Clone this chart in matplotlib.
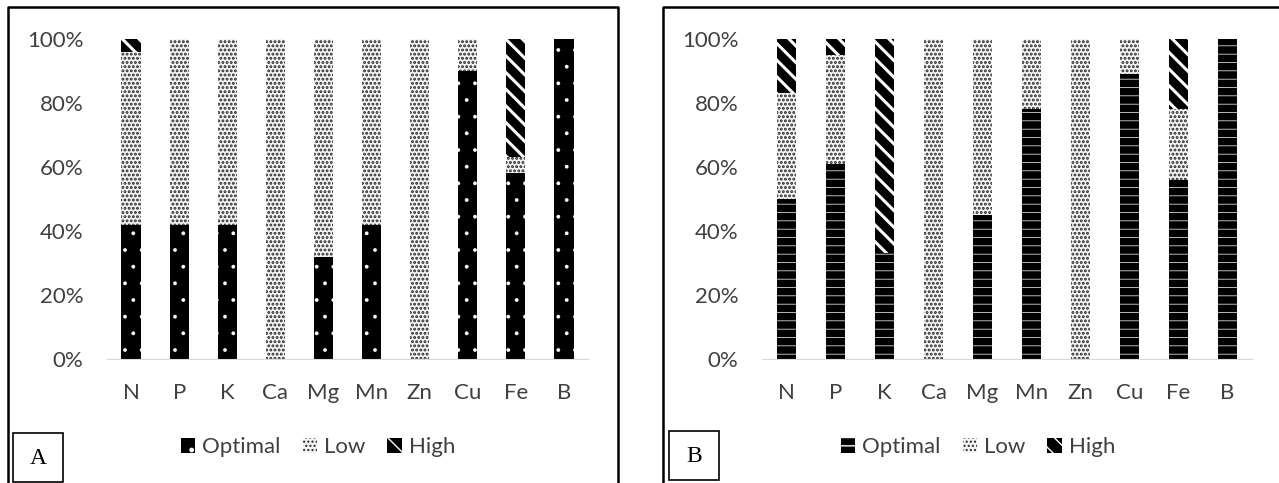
import numpy as np
import matplotlib
matplotlib.use('Agg')
import matplotlib.pyplot as plt
from matplotlib.patches import Rectangle
from matplotlib.ticker import PercentFormatter

nutrients = ['N', 'P', 'K', 'Ca', 'Mg', 'Mn', 'Zn', 'Cu', 'Fe', 'B']
series = ['Optimal', 'Low', 'High']

# panel A (percent of samples)
optimal_a = [42, 42, 42, 0, 32, 42, 0, 90, 58, 100]
low_a = [54, 58, 58, 100, 68, 58, 100, 10, 5, 0]
high_a = [4, 0, 0, 0, 0, 0, 0, 0, 37, 0]

# panel B
optimal_b = [50, 61, 33, 0, 45, 78, 0, 89, 56, 100]
low_b = [33, 34, 0, 100, 55, 22, 100, 11, 22, 0]
high_b = [17, 5, 67, 0, 0, 0, 0, 0, 22, 0]

plt.rcParams['font.family'] = ['Lato', 'DejaVu Sans']
W, H = 1279, 483
fig = plt.figure(figsize=(W / 100, H / 100), dpi=100)
FS = 16


def fx(px):
    return px / W


def fy(py):
    return 1 - py / H


def set_hlw(bars, lw):
    for b in bars:
        if hasattr(b, 'set_hatch_linewidth'):
            b.set_hatch_linewidth(lw)


def draw_panel(rect, opt, low, high, opt_hatch, opt_lw, leg_x):
    ax = fig.add_axes(rect)
    x = np.arange(len(nutrients))
    opt = np.array(opt) / 100
    low = np.array(low) / 100
    high = np.array(high) / 100
    w = 0.4
    with plt.rc_context({'hatch.linewidth': opt_lw}):
        b1 = ax.bar(x, opt, w, color='black', edgecolor='white', linewidth=0,
                    hatch=opt_hatch, label=series[0])
    set_hlw(b1, opt_lw)
    with plt.rc_context({'hatch.linewidth': 1.4}):
        b2 = ax.bar(x, low, w, bottom=opt, color='#f4f4f4', edgecolor='#262626',
                    linewidth=0, hatch='....', label=series[1])
    set_hlw(b2, 1.4)
    with plt.rc_context({'hatch.linewidth': 2.2}):
        b3 = ax.bar(x, high, w, bottom=opt + low, color='black', edgecolor='white',
                    linewidth=0, hatch='\\\\', label=series[2])
    set_hlw(b3, 2.2)

    ax.set_xlim(-0.5, len(nutrients) - 0.5)
    ax.set_ylim(0, 1)
    ax.set_yticks(np.linspace(0, 1, 6))
    ax.yaxis.set_major_formatter(PercentFormatter(1.0, decimals=0))
    ax.set_xticks(x)
    ax.set_xticklabels(nutrients)
    for s in ['top', 'right', 'left']:
        ax.spines[s].set_visible(False)
    ax.spines['bottom'].set_color('#d9d9d9')
    ax.tick_params(axis='both', length=0, labelsize=FS, colors='#404040')
    ax.tick_params(axis='y', pad=17)
    ax.tick_params(axis='x', pad=17)
    leg = fig.legend(handles=[b1, b2, b3], loc='center', bbox_to_anchor=(leg_x, fy(447)),
                     ncol=3, frameon=False, fontsize=FS, handlelength=0.65,
                     handleheight=0.65, handletextpad=0.3, columnspacing=1.0)
    for t in leg.get_texts():
        t.set_color('#404040')
    return ax


draw_panel([fx(107), fy(359), fx(481), 320 / H], optimal_a, low_a, high_a, '.', 0.3, fx(318))
draw_panel([fx(762), fy(359), fx(490), 320 / H], optimal_b, low_b, high_b, '--', 0.5, fx(978))

# panel frames (open at the bottom)
for x0, x1 in [(8, 618), (663, 1290)]:
    fig.add_artist(plt.Line2D([fx(x0), fx(x0), fx(x1), fx(x1)], [0, fy(7), fy(7), 0],
                              color='black', linewidth=1.8))

# panel letters
for letter, x0, y0 in [('A', 13, 433), ('B', 669, 431)]:
    fig.add_artist(Rectangle((fx(x0), fy(y0 + 49)), fx(50), 49 / H, fill=False,
                             edgecolor='black', linewidth=1.2))
    fig.text(fx(x0 + 25), fy(y0 + 25), letter, ha='center', va='center',
             fontsize=17, family=['Liberation Serif', 'DejaVu Serif'])

fig.savefig('out.png', dpi=100)
